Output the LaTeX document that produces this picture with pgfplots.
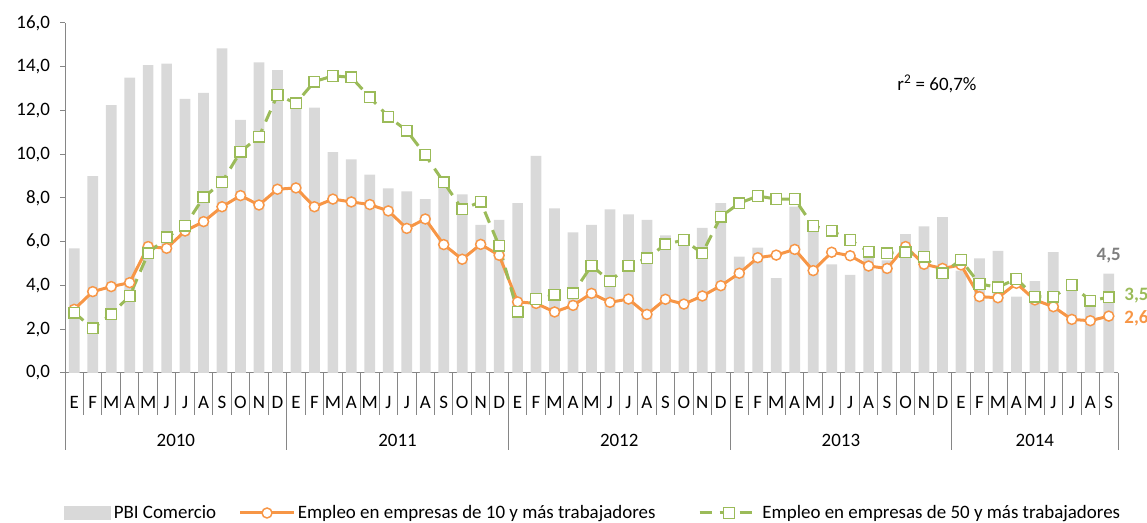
\documentclass[border=0pt]{standalone}
\usepackage{pgfplots}
\pgfplotsset{compat=1.18}
\usepackage{pgfplotstable}
\usepackage{fontspec}
\setmainfont{Carlito}
\definecolor{barc}{HTML}{D9D9D9}
\definecolor{orc}{HTML}{F79646}
\definecolor{grc}{HTML}{9BBB59}
\definecolor{axc}{HTML}{868686}
\definecolor{labg}{HTML}{7F7F7F}

\pgfplotsset{
  barlegend/.style={legend image code/.code={\fill[barc] (0pt,-5pt) rectangle (35pt,5pt);}},
  orlegend/.style={legend image code/.code={\draw[mark repeat=2,mark phase=2,##1] plot coordinates {(0pt,0pt) (20pt,0pt) (40pt,0pt)};}},
  grlegend/.style={legend image code/.code={\draw[mark repeat=2,mark phase=2,##1] plot coordinates {(0pt,0pt) (22pt,0pt) (44pt,0pt)};}},
}

\pgfplotstableread{
x pbi e10 e50
0 5.70 2.91 2.76
1 9.00 3.72 2.04
2 12.25 3.95 2.68
3 13.50 4.13 3.52
4 14.07 5.78 5.47
5 14.14 5.70 6.20
6 12.53 6.49 6.73
7 12.81 6.92 8.03
8 14.84 7.60 8.72
9 11.57 8.11 10.12
10 14.20 7.68 10.80
11 13.85 8.40 12.71
12 12.45 8.46 12.33
13 12.13 7.60 13.32
14 10.10 7.95 13.58
15 9.77 7.82 13.52
16 9.07 7.70 12.60
17 8.44 7.41 11.72
18 8.30 6.61 11.08
19 7.95 7.04 9.97
20 8.72 5.87 8.72
21 8.17 5.20 7.48
22 6.77 5.88 7.83
23 7.00 5.38 5.81
24 7.76 3.25 2.80
25 9.92 3.18 3.38
26 7.53 2.79 3.57
27 6.43 3.09 3.64
28 6.77 3.64 4.91
29 7.48 3.23 4.20
30 7.25 3.38 4.91
31 7.00 2.68 5.24
32 6.29 3.37 5.88
33 6.15 3.15 6.08
34 6.63 3.52 5.47
35 7.76 3.99 7.15
36 5.32 4.56 7.76
37 5.73 5.27 8.09
38 4.34 5.39 7.95
39 7.60 5.65 7.95
40 6.80 4.68 6.72
41 4.97 5.52 6.50
42 4.48 5.36 6.08
43 5.25 4.89 5.55
44 5.15 4.78 5.47
45 6.35 5.78 5.52
46 6.70 4.97 5.32
47 7.12 4.78 4.56
48 4.68 4.94 5.17
49 5.24 3.49 4.07
50 5.58 3.44 3.92
51 3.49 4.10 4.30
52 4.20 3.34 3.49
53 5.52 3.03 3.49
54 3.85 2.45 4.02
55 3.20 2.39 3.31
56 4.54 2.60 3.46
}\data

\begin{document}
\begin{tikzpicture}[font=\fontsize{14.2}{17}\selectfont]
\begin{axis}[
  scale only axis, width=789.75pt, height=262.5pt,
  xmin=-0.5, xmax=56.5, ymin=0, ymax=16,
  axis lines*=left,
  axis line style={axc, line width=0.75pt},
  tick align=outside, major tick length=3.75pt,
  ytick={0,2,...,16},
  ytick style={axc, line width=0.75pt},
  yticklabel style={xshift=-4pt, /pgf/number format/.cd, fixed, fixed zerofill, precision=1, use comma, assume math mode=true},
  xtick={0,...,56},
  xticklabels={E,F,M,A,M,J,J,A,S,O,N,D,E,F,M,A,M,J,J,A,S,O,N,D,E,F,M,A,M,J,J,A,S,O,N,D,E,F,M,A,M,J,J,A,S,O,N,D,E,F,M,A,M,J,J,A,S},
  xtick style={draw=none},
  xticklabel style={anchor=base, yshift=-23pt},
  clip=false,
  legend columns=3,
  legend style={at={(0.502,-0.4)}, anchor=center, draw=none, fill=none,
    font=\fontsize{14.2}{17}\selectfont,
    /tikz/column 2/.style={column sep=15pt},
    /tikz/column 4/.style={column sep=30pt}},
]
\addplot[ybar, bar shift=0pt, bar width=0.58, fill=barc, draw=none, barlegend]
  table[x=x, y=pbi] {\data};
\addlegendentry{PBI Comercio}
\addplot[orc, line width=2.25pt, mark=*, mark size=3.75pt,
  mark options={fill=white, draw=orc, line width=1.1pt}, orlegend]
  table[x=x, y=e10] {\data};
\addlegendentry{Empleo en empresas de 10 y más trabajadores}
\addplot[grc, line width=2.25pt, dash pattern=on 9pt off 6pt, mark=square*, mark size=4pt,
  mark options={fill=white, draw=grc, line width=1.1pt, solid}, grlegend]
  table[x=x, y=e50] {\data};
\addlegendentry{Empleo en empresas de 50 y más trabajadores}

\pgfplotsinvokeforeach{-0.5,0.5,...,56.5}{\draw[axc, line width=0.75pt] (axis cs:#1,0) -- ++(0pt,-31.5pt);}
\pgfplotsinvokeforeach{-0.5,11.5,23.5,35.5,47.5,56.5}{\draw[axc, line width=0.75pt] (axis cs:#1,0) -- ++(0pt,-57.75pt);}
\node[anchor=base, yshift=-55pt] at (axis cs:5.5,0) {2010};
\node[anchor=base, yshift=-55pt] at (axis cs:17.5,0) {2011};
\node[anchor=base, yshift=-55pt] at (axis cs:29.5,0) {2012};
\node[anchor=base, yshift=-55pt] at (axis cs:41.5,0) {2013};
\node[anchor=base, yshift=-55pt] at (axis cs:52,0) {2014};
\node at (axis cs:46.7,13.2) {r\textsuperscript{2} = 60,7\%};
\node[labg, font=\fontsize{14.2}{17}\selectfont\bfseries] at (axis cs:56,5.35) {4,5};
\node[grc, font=\fontsize{14.2}{17}\selectfont\bfseries] at (axis cs:57.5,3.52) {3,5};
\node[orc, font=\fontsize{14.2}{17}\selectfont\bfseries] at (axis cs:57.5,2.5) {2,6};
\coordinate (bbsw) at (rel axis cs:-0.06173,-0.42857);
\coordinate (bbne) at (rel axis cs:1.02754,1.06571);
\end{axis}
\pgfresetboundingbox
\path (bbsw) rectangle (bbne);
\end{tikzpicture}
\end{document}
